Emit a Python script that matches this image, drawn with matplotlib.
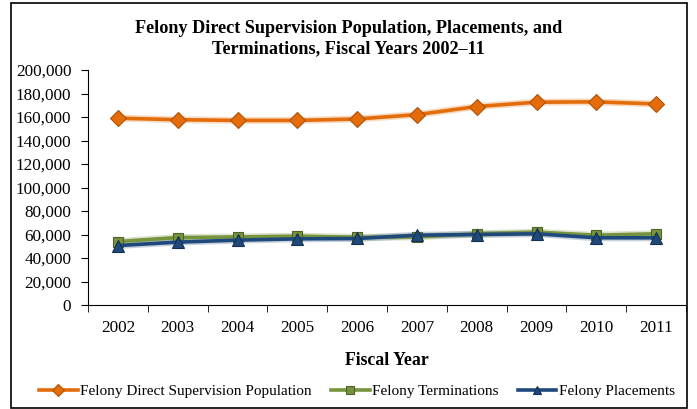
import matplotlib.pyplot as plt
from matplotlib.patches import Rectangle

years = ["2002", "2003", "2004", "2005", "2006", "2007", "2008", "2009", "2010", "2011"]
population = [159000, 157700, 157100, 157100, 158300, 162000, 168900, 172600, 172900, 171100]
terminations = [54000, 57400, 57900, 58600, 57600, 57900, 60600, 62000, 59400, 60600]
placements = [50600, 53500, 55200, 56300, 56600, 59400, 60000, 60600, 57200, 57200]

plt.rcParams["font.family"] = ["Liberation Serif", "DejaVu Serif"]

fig = plt.figure(figsize=(6.97, 4.09), dpi=100)
ax = fig.add_axes([88 / 697, 1 - 305 / 409, (686 - 88) / 697, (305 - 70) / 409])

x = list(range(len(years)))
series = [
    (population, "Felony Direct Supervision Population", "#E46C0A", "#B05208", "D", 8.5),
    (terminations, "Felony Terminations", "#77933C", "#4F6228", "s", 7.5),
    (placements, "Felony Placements", "#1F497D", "#12304F", "^", 9),
]
handles = []
for vals, label, col, edge, mk, ms in series:
    ax.plot(x, vals, color=col, lw=5, alpha=0.25, solid_capstyle="round", zorder=2)
    h, = ax.plot(x, vals, color=col, lw=2.6, marker=mk, markersize=ms,
                 markerfacecolor=col, markeredgecolor=edge, markeredgewidth=0.8,
                 label=label, zorder=3)
    handles.append(h)

ax.set_xlim(-0.5, len(years) - 0.5)
ax.set_ylim(0, 200000)
ax.set_yticks(range(0, 200001, 20000))
ax.set_yticklabels([f"{v:,}" for v in range(0, 200001, 20000)], fontsize=12.3)
ax.set_xticks(x)
ax.set_xticklabels(years, fontsize=12.3)
ax.tick_params(axis="x", length=0, pad=11)
ax.set_xticks([i - 0.5 for i in range(len(years) + 1)], minor=True)
ax.tick_params(axis="x", which="minor", length=5, direction="out")
ax.tick_params(axis="y", length=5, direction="out", pad=7)
for s in ["top", "right"]:
    ax.spines[s].set_visible(False)
ax.set_xlabel("Fiscal Year", fontsize=12.8, fontweight="bold", labelpad=11)

fig.suptitle("Felony Direct Supervision Population, Placements, and\n"
             "Terminations, Fiscal Years 2002\u201311",
             fontsize=13.1, fontweight="bold", y=0.95, linespacing=1.2)

fig.legend(handles=handles, loc="center", bbox_to_anchor=(357 / 697, 1 - 391 / 409),
           ncol=3, frameon=False, fontsize=11, handlelength=2.5, handletextpad=0.15,
           columnspacing=1.3, markerscale=0.7)

fig.add_artist(Rectangle((11 / 697, 1 - 408 / 409), 676 / 697, 405 / 409,
                         transform=fig.transFigure, fill=False, lw=1.2, ec="black"))

fig.savefig("out.png", dpi=100)
